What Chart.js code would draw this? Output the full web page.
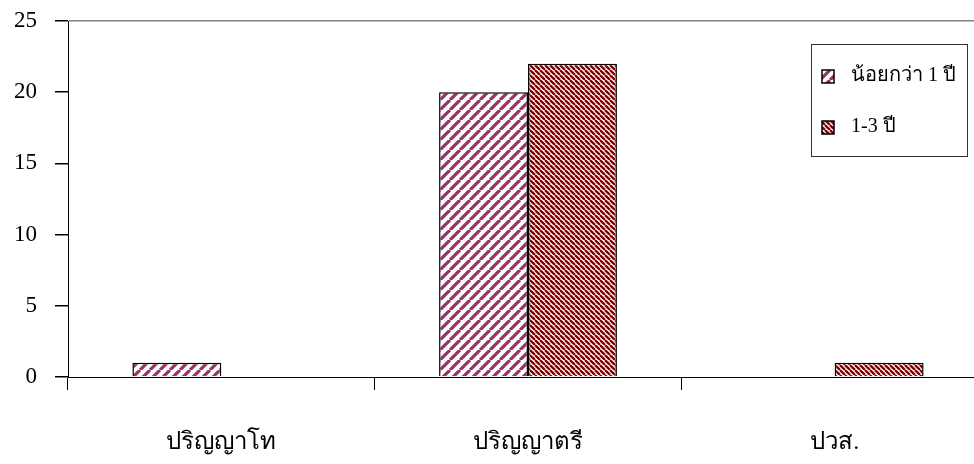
<!DOCTYPE html>
<html>
<head>
<meta charset="utf-8">
<script src="https://cdn.jsdelivr.net/npm/chart.js@4/dist/chart.umd.min.js"></script>
<style>
  html, body { margin: 0; padding: 0; background: #fff; overflow: hidden; }
  #wrap { width: 974px; height: 464px; overflow: hidden; }
</style>
</head>
<body>
<div id="wrap"><canvas id="chart" width="1000" height="464"></canvas></div>
<script>
// data
const categories = ["ปริญญาโท", "ปริญญาตรี", "ปวส."];
const lessThanOneYear = [1, 20, 0];
const oneToThreeYears = [0, 22, 1];
const seriesNames = ["น้อยกว่า 1 ปี", "1-3 ปี"];
const yTicks = [0, 5, 10, 15, 20, 25];

const SERIF = "'Liberation Serif', 'Times New Roman', 'DejaVu Serif', serif";

// diagonal stripe fill, like the old office hatch patterns
function stripes(color, size, lineW, up) {
  const c = document.createElement("canvas");
  c.width = size;
  c.height = size;
  const g = c.getContext("2d");
  g.fillStyle = "#fff";
  g.fillRect(0, 0, size, size);
  g.strokeStyle = color;
  g.lineWidth = lineW;
  g.beginPath();
  for (let k = -1; k <= 1; k++) {
    const o = k * size;
    if (up) {
      g.moveTo(o, size);
      g.lineTo(o + size, 0);
    } else {
      g.moveTo(o, 0);
      g.lineTo(o + size, size);
    }
  }
  g.stroke();
  return g.createPattern(c, "repeat");
}

const fillA = stripes("#993366", 10, 3.2, true);
const fillB = stripes("#800000", 5, 2.3, false);

// legend drawn as a boxed panel inside the plot
const boxLegend = {
  id: "boxLegend",
  afterDraw(chart) {
    const ctx = chart.ctx;
    ctx.save();
    ctx.strokeStyle = "#333";
    ctx.lineWidth = 1;
    ctx.strokeRect(811.5, 44.5, 156, 112);
    const rows = [76, 127];
    chart.data.datasets.forEach((ds, i) => {
      const y = rows[i];
      ctx.fillStyle = ds.backgroundColor;
      ctx.fillRect(822, y - 6, 12, 13);
      ctx.strokeStyle = "#000";
      ctx.lineWidth = 1.5;
      ctx.strokeRect(822, y - 6, 12, 13);
      ctx.fillStyle = "#000";
      ctx.font = "20px " + SERIF;
      ctx.textBaseline = "middle";
      ctx.textAlign = "left";
      ctx.fillText(ds.label, 851, y);
    });
    ctx.restore();
  }
};

new Chart(document.getElementById("chart"), {
  type: "bar",
  data: {
    labels: categories,
    datasets: [
      {
        label: seriesNames[0],
        data: lessThanOneYear,
        backgroundColor: fillA,
        borderColor: "#000",
        borderWidth: (c) => (c.raw ? 1.5 : 0),
      },
      {
        label: seriesNames[1],
        data: oneToThreeYears,
        backgroundColor: fillB,
        borderColor: "#000",
        borderWidth: (c) => (c.raw ? 1.5 : 0),
      },
    ],
  },
  options: {
    responsive: false,
    devicePixelRatio: 1,
    animation: false,
    layout: { padding: { top: 21, right: 12, left: 0, bottom: 0 } },
    datasets: { bar: { categoryPercentage: 0.58, barPercentage: 1 } },
    plugins: { legend: { display: false }, tooltip: { enabled: false } },
    scales: {
      x: {
        grid: {
          offset: true,
          drawOnChartArea: false,
          drawTicks: true,
          tickLength: 13,
          tickColor: "#000",
          color: "#000",
        },
        border: { color: "#000", width: 1 },
        ticks: { color: "#000", font: { family: SERIF, size: 24 }, padding: 38 },
        afterFit(s) { s.height = 87; },
      },
      y: {
        min: 0,
        max: 25,
        afterBuildTicks(s) { s.ticks = yTicks.map((v) => ({ value: v })); },
        grid: {
          color: (c) => (c.tick && c.tick.value === 25 ? "#808080" : "rgba(0,0,0,0)"),
          lineWidth: 1.5,
          tickColor: "#000",
          tickLength: 13,
          drawTicks: true,
        },
        border: { color: "#000", width: 1 },
        ticks: { color: "#000", font: { family: SERIF, size: 23 }, padding: 18 },
        afterFit(s) {
          s.width = 68;
          s.paddingTop = 0;
          s.paddingBottom = 0;
        },
      },
    },
  },
  plugins: [boxLegend],
});
</script>
</body>
</html>
